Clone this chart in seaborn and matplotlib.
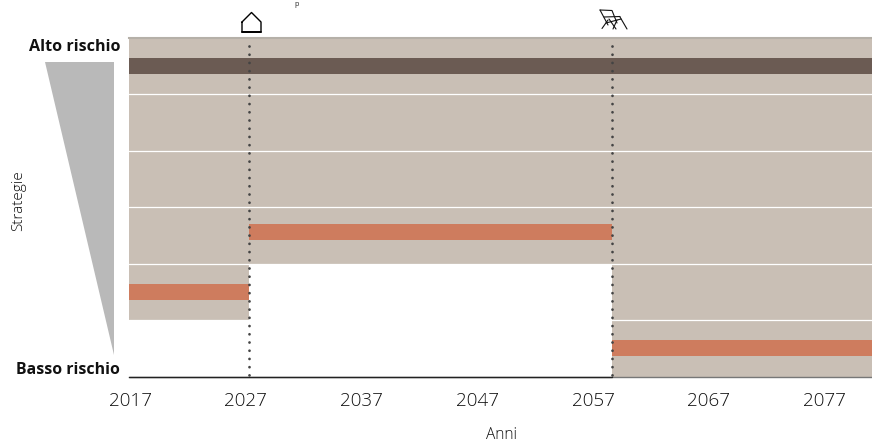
import matplotlib
matplotlib.use("Agg")
import matplotlib.pyplot as plt
from matplotlib.lines import Line2D
from matplotlib.patches import Polygon
import pandas as pd
import seaborn as sns

# Strategy rows, from highest risk (0) to lowest risk (5)
strategy_rows = [0, 1, 2, 3, 4, 4, 5]
band_start = [2016.9, 2016.9, 2016.9, 2016.9, 2016.9, 2058.65, 2058.65]
band_end = [2081.1, 2081.1, 2081.1, 2081.1, 2027.25, 2081.1, 2081.1]

# Selected strategy in each period
active_rows = [0, 2.94, 4, 5]
active_start = [2016.9, 2027.25, 2016.9, 2058.65]
active_end = [2081.1, 2058.65, 2027.25, 2081.1]
active_colors = ["#6b5b53", "#ce7c5e", "#ce7c5e", "#ce7c5e"]

milestones = [2027.25, 2058.65]
tick_years = [2017, 2027, 2037, 2047, 2057, 2067, 2077]
row_edges = [0.5, 1.5, 2.5, 3.5, 4.5]
high_label = "Alto rischio"
low_label = "Basso rischio"
x_label = "Anni"
y_label = "Strategie"
top_note = "p"

W, H = 872, 443

sns.set_theme(style="white")
plt.rcParams["font.family"] = ["Open Sans", "DejaVu Sans"]

fig = plt.figure(figsize=(W / 100, H / 100), dpi=100)
ax = fig.add_axes([129 / W, 1 - 376.5 / H, (W - 129) / W, 338.5 / H])


def hbar(row, start, end, color, thickness):
    frame = pd.DataFrame({"row": [row], "span": [end - start]})
    sns.barplot(data=frame, x="span", y="row", orient="h", native_scale=True,
                left=start, color=color, width=thickness, saturation=1,
                linewidth=0, ax=ax)


for r, s, e in zip(strategy_rows, band_start, band_end):
    hbar(r, s, e, "#c9bfb5", 1.0)
for r, s, e, c in zip(active_rows, active_start, active_end, active_colors):
    hbar(r, s, e, c, 0.284)

ax.set_xlim(2016.9, 2081.1)
ax.set_ylim(5.5, -0.5)
ax.set_xlabel("")
ax.set_ylabel("")
ax.set_yticks([])
ax.set_xticks(tick_years)
ax.set_xticklabels(tick_years, fontsize=13.6, color="#111111", fontweight=300)
ax.tick_params(axis="x", length=0, pad=11)
for side in ["left", "right"]:
    ax.spines[side].set_visible(False)
ax.spines["top"].set_color("#b5b0a8")
ax.spines["top"].set_linewidth(1.5)
ax.spines["bottom"].set_color("#777777")
ax.spines["bottom"].set_linewidth(1.0)

# Row separators over the bands
for edge in row_edges:
    ax.axhline(edge, color="white", lw=0.9, zorder=3)

# Baseline across the part of the axis with no band
ax.plot([2016.9, milestones[1]], [5.5, 5.5], color="#222222", lw=1.0,
        clip_on=False, zorder=4)

# Dotted milestone markers
for year in milestones:
    ax.plot([year, year], [-0.36, 5.5], color="#444444", lw=2.0,
            dashes=(0.01, 2.95), dash_capstyle="round", zorder=5, clip_on=False)


def px(x, y):
    return x / W, 1 - y / H


# Risk wedge beside the rows
fig.add_artist(Polygon([px(45, 62), px(114, 62), px(114, 355)],
                       closed=True, facecolor="#b9b9b9", edgecolor="none",
                       transform=fig.transFigure))

# House icon above the first milestone
house = [(242, 22), (242, 32), (261, 32), (261, 22), (251.5, 12.5), (242, 22)]
fig.add_artist(Line2D(*zip(*[px(*p) for p in house]), color="black", lw=1.0,
                      transform=fig.transFigure))
fig.add_artist(Line2D(*zip(*[px(*p) for p in [(242, 32), (261, 32)]]),
                      color="black", lw=1.4, transform=fig.transFigure))

# Deck chair icon above the second milestone
chair_parts = [
    [(600, 10), (612, 10.5), (617, 23)],
    [(600, 10), (608, 25)],
    [(608, 20), (602, 28.5)],
    [(604, 17), (620, 16.5)],
    [(606, 23), (621, 19)],
    [(620, 17), (627, 29)],
    [(617, 20), (613, 29)],
    [(609, 19), (616, 29)],
]
for part in chair_parts:
    fig.add_artist(Line2D(*zip(*[px(*p) for p in part]), color="#111111",
                          lw=0.8, transform=fig.transFigure))

fig.text(120 / W, 1 - 47 / H, high_label, ha="right", va="center",
         fontsize=11.6, fontweight="bold", color="#111111")
fig.text(120 / W, 1 - 369.5 / H, low_label, ha="right", va="center",
         fontsize=11.4, fontweight="bold", color="#111111")
fig.text(18.5 / W, 1 - 201 / H, y_label, rotation=90, ha="center", va="center",
         fontsize=11, color="#111111", fontweight=300)
fig.text(501 / W, 1 - 435 / H, x_label, ha="center", va="center",
         fontsize=11.2, color="#111111", fontweight=300)

# Small caption tucked against the top edge of the figure
fig.text(294.5 / W, 1 - 0.5 / H, top_note, ha="left", va="top", fontsize=5,
         color="#222222")

fig.savefig("out.png", dpi=100)
